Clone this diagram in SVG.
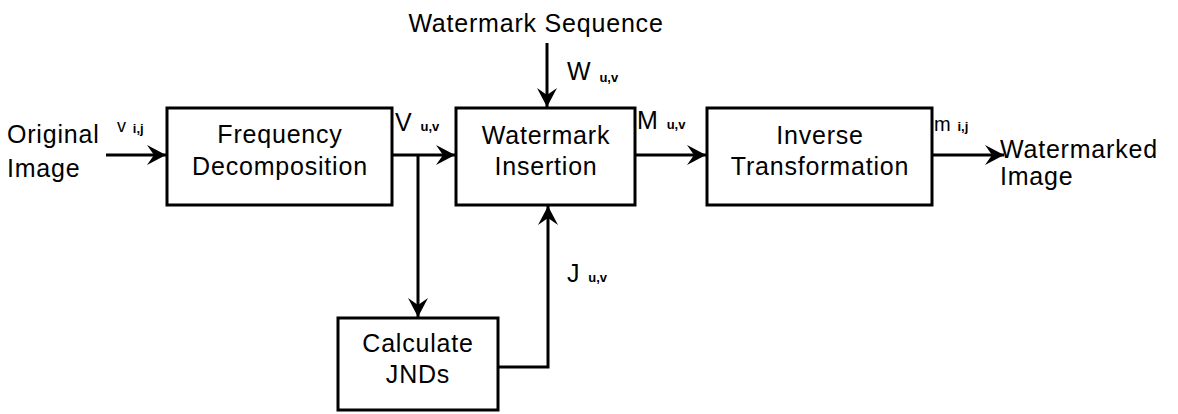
<svg xmlns="http://www.w3.org/2000/svg" width="1178" height="414" viewBox="0 0 1178 414">
<defs>
<marker id="ah" markerUnits="userSpaceOnUse" markerWidth="24" markerHeight="24" viewBox="-22 -12 24 24" refX="0" refY="0" orient="auto">
<path d="M0,0 L-19,-10 L-12,0 L-19,10 Z" fill="#000"/>
</marker>
</defs>
<style>
.box{fill:#fff;stroke:#000;stroke-width:3}
.t{font-family:"Liberation Sans",Arial,sans-serif;font-size:25px;letter-spacing:0.8px;fill:#000}
.c{text-anchor:middle}
.s{font-family:"Liberation Sans",Arial,sans-serif;font-size:13px;font-weight:bold;letter-spacing:0;fill:#000}
.ln{fill:none;stroke:#000;stroke-width:3}
</style>
<rect width="1178" height="414" fill="#fff"/>
<g id="connectors">
<line class="ln" x1="106" y1="155" x2="166" y2="155" marker-end="url(#ah)"/>
<line class="ln" x1="392" y1="155" x2="455" y2="155" marker-end="url(#ah)"/>
<line class="ln" x1="635" y1="155" x2="706" y2="155" marker-end="url(#ah)"/>
<line class="ln" x1="932" y1="155" x2="1004" y2="155" marker-end="url(#ah)"/>
<line class="ln" x1="547" y1="43" x2="547" y2="107" marker-end="url(#ah)"/>
<line class="ln" x1="418" y1="155" x2="418" y2="317" marker-end="url(#ah)"/>
<polyline class="ln" points="498,367 548,367 548,206" marker-end="url(#ah)"/>
</g>
<g id="labels">
<text class="t" x="7" y="143">Original</text>
<text class="t" x="7" y="177">Image</text>
<text class="t c" x="536" y="32">Watermark Sequence</text>
<text class="t" x="1000" y="158">Watermarked</text>
<text class="t" x="1000" y="185">Image</text>
<text class="t" x="117" y="132" style="font-size:18px">v<tspan class="s" dx="6" dy="1">i,j</tspan></text>
<text class="t" x="395" y="131">V<tspan class="s" dx="8" dy="0">u,v</tspan></text>
<text class="t" x="637" y="129">M<tspan class="s" dx="8" dy="0">u,v</tspan></text>
<text class="t" x="934" y="131" style="font-size:20px">m<tspan class="s" dx="6" dy="0">i,j</tspan></text>
<text class="t" x="567" y="80">W<tspan class="s" dx="8" dy="2">u,v</tspan></text>
<text class="t" x="567" y="282">J<tspan class="s" dx="8" dy="0">u,v</tspan></text>
</g>
<g id="freq">
<rect class="box" x="167" y="108" width="225" height="97"/>
<text class="t c" x="280" y="143">Frequency</text>
<text class="t c" x="280" y="175">Decomposition</text>
</g>
<g id="insert">
<rect class="box" x="456" y="108" width="179" height="97"/>
<text class="t c" x="546" y="144">Watermark</text>
<text class="t c" x="546" y="175">Insertion</text>
</g>
<g id="inverse">
<rect class="box" x="707" y="108" width="225" height="97"/>
<text class="t c" x="820" y="144">Inverse</text>
<text class="t c" x="820" y="175">Transformation</text>
</g>
<g id="jnd">
<rect class="box" x="338" y="318" width="160" height="92"/>
<text class="t c" x="418" y="352">Calculate</text>
<text class="t c" x="418" y="383">JNDs</text>
</g>
</svg>
